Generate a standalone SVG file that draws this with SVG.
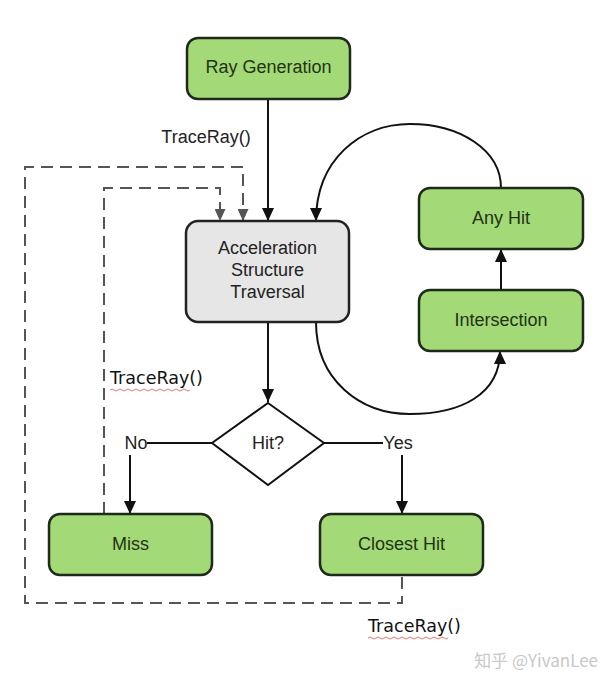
<svg xmlns="http://www.w3.org/2000/svg" width="615" height="685" viewBox="0 0 615 685">
<style>
.g{fill:#a3d977;stroke:#1e2a1a;stroke-width:2.5}
.gr{fill:#e6e6e6;stroke:#222;stroke-width:2.5}
.t{font-family:"Liberation Sans",Arial,sans-serif;font-size:18px;fill:#222;text-anchor:middle}
.tg{font-family:"Liberation Sans",Arial,sans-serif;font-size:18px;fill:#1f3314;text-anchor:middle}
.s{fill:none;stroke:#111;stroke-width:2}
.d{fill:none;stroke:#555;stroke-width:2;stroke-dasharray:12,7}
.c{font-family:"DejaVu Sans",sans-serif;font-size:17.5px;fill:#111}
.w{fill:none;stroke:#e05050;stroke-width:0.8}
</style>
<defs>
<marker id="a" viewBox="0 0 10 10" refX="10" refY="5" markerWidth="13" markerHeight="12" markerUnits="userSpaceOnUse" orient="auto" preserveAspectRatio="none"><path d="M0,0L10,5L0,10Z" fill="#111"/></marker>
<marker id="ad" viewBox="0 0 10 10" refX="10" refY="5" markerWidth="12" markerHeight="11" markerUnits="userSpaceOnUse" orient="auto" preserveAspectRatio="none"><path d="M0,0L10,5L0,10Z" fill="#555"/></marker>
</defs>
<g id="connectors">
<path class="s" d="M268,99V221" marker-end="url(#a)"/>
<path class="s" d="M268,322V402" marker-end="url(#a)"/>
<path class="s" d="M501,188C501,150 460,124 410,124C360,124 316,160 316,221" marker-end="url(#a)"/>
<path class="s" d="M316,322C316,380 360,414 410,414C460,414 500,395 500,351" marker-end="url(#a)"/>
<path class="s" d="M501,290V249" marker-end="url(#a)"/>
<path class="s" d="M212,443H147"/>
<path class="s" d="M130,455V514" marker-end="url(#a)"/>
<path class="s" d="M324,443H383"/>
<path class="s" d="M402,455V514" marker-end="url(#a)"/>
<path class="d" d="M402,577V603H25V167H243V221" marker-end="url(#ad)"/>
<path class="d" d="M104,514V188H220V221" marker-end="url(#ad)"/>
</g>
<g id="ray-generation">
<rect class="g" x="187" y="38" width="163" height="61" rx="11"/>
<text class="tg" x="268.5" y="73">Ray Generation</text>
</g>
<g id="accel">
<rect class="gr" x="186" y="221" width="163" height="101" rx="12"/>
<text class="t" x="267.5" y="254">Acceleration</text>
<text class="t" x="267.5" y="276">Structure</text>
<text class="t" x="267.5" y="298">Traversal</text>
</g>
<g id="any-hit">
<rect class="g" x="419" y="188" width="164" height="61" rx="11"/>
<text class="tg" x="501" y="224">Any Hit</text>
</g>
<g id="intersection">
<rect class="g" x="419" y="290" width="164" height="61" rx="11"/>
<text class="tg" x="501" y="326">Intersection</text>
</g>
<g id="hit">
<path d="M268,403L324,443L268,485L212,443Z" fill="#fff" stroke="#111" stroke-width="2"/>
<text class="t" x="268" y="449">Hit?</text>
</g>
<g id="miss">
<rect class="g" x="49" y="514" width="163" height="61" rx="11"/>
<text class="tg" x="130.5" y="550">Miss</text>
</g>
<g id="closest-hit">
<rect class="g" x="320" y="514" width="163" height="61" rx="11"/>
<text class="tg" x="401.5" y="550">Closest Hit</text>
</g>
<g id="labels">
<text class="t" x="206" y="143">TraceRay()</text>
<text class="t" x="136" y="449">No</text>
<text class="t" x="398" y="449">Yes</text>
<text class="c" x="110" y="384">TraceRay()</text>
<path class="w" d="M110,390q2,-2 4,0t4,0t4,0t4,0t4,0t4,0t4,0t4,0t4,0t4,0t4,0t4,0t4,0t4,0t4,0t4,0t4,0t4,0t4,0t4,0"/>
<text class="c" x="368" y="632">TraceRay()</text>
<path class="w" d="M368,638q2,-2 4,0t4,0t4,0t4,0t4,0t4,0t4,0t4,0t4,0t4,0t4,0t4,0t4,0t4,0t4,0t4,0t4,0t4,0t4,0t4,0"/>
<text x="598" y="667" text-anchor="end" font-family="'Noto Sans CJK SC',sans-serif" font-size="17" fill="#c8c8c8">知乎 @YivanLee</text>
</g>
</svg>
